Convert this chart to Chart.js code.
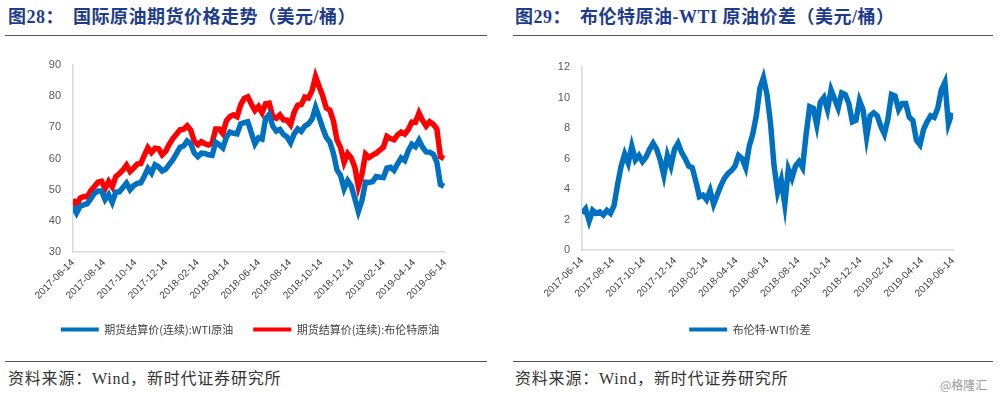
<!DOCTYPE html>
<html lang="zh-CN">
<head>
<meta charset="utf-8">
<script src="https://cdn.jsdelivr.net/npm/chart.js@4.4.0/dist/chart.umd.min.js"></script>
<style>
  body { margin: 0; width: 1000px; height: 398px; background: #fff; position: relative; overflow: hidden; font-family: "Noto Sans CJK SC", sans-serif; }
  .title { position: absolute; top: 6px; line-height: 22px; font-family: "Liberation Serif", "Noto Sans CJK SC", serif; font-weight: bold; font-size: 18px; letter-spacing: 0.5px; color: #1e3c8c; white-space: nowrap; }
  .rule { position: absolute; height: 0; border-top: 1.5px solid #555; }
  .src { position: absolute; top: 369px; line-height: 20px; font-family: "Liberation Serif", "Noto Sans CJK SC", serif; font-size: 16px; letter-spacing: 0.8px; color: #333; white-space: nowrap; }
  .wm { position: absolute; left: 940px; top: 376px; font-size: 12px; color: #999; }
  canvas { position: absolute; }
</style>
</head>
<body>
<div class="title" style="left:8px">图28：</div>
<div class="title" style="left:73px">国际原油期货价格走势（美元/桶）</div>
<div class="title" style="left:515px">图29：</div>
<div class="title" style="left:580px">布伦特原油-WTI 原油价差（美元/桶）</div>
<div class="rule" style="left:5px;width:482px;top:35px"></div>
<div class="rule" style="left:513px;width:480px;top:35px"></div>

<canvas id="oilChart" width="500" height="300" style="left:0;top:45px"></canvas>
<canvas id="spreadChart" width="500" height="300" style="left:500px;top:45px"></canvas>

<div class="rule" style="left:5px;width:482px;top:361px"></div>
<div class="rule" style="left:513px;width:480px;top:361px"></div>
<div class="src" style="left:8px">资料来源：Wind，新时代证券研究所</div>
<div class="src" style="left:515px">资料来源：Wind，新时代证券研究所</div>
<div class="wm">@格隆汇</div>

<script>
// weekly settlements (every 7 days starting 2017-06-14)
const startDate = '2017-06-14';
const stepDays = 7;

const tickLabels = ['2017-06-14', '2017-08-14', '2017-10-14', '2017-12-14', '2018-02-14', '2018-04-14',
  '2018-06-14', '2018-08-14', '2018-10-14', '2018-12-14', '2019-02-14', '2019-04-14', '2019-06-14'];

const wti = [44.7, 42.5, 44.7, 45.1, 45.5, 47.1, 48.8, 49.6, 49.6, 46.8,
  48.4, 45.9, 49.2, 49.3, 50.7, 52.1, 50.0, 51.3, 52.0, 52.2,
  54.3, 56.8, 55.3, 58.0, 57.3, 56.0, 56.6, 58.1, 59.6, 61.6,
  63.6, 64.0, 65.6, 64.7, 61.8, 60.6, 61.7, 61.6, 61.2, 61.0,
  65.2, 64.4, 63.4, 66.8, 68.5, 68.1, 67.9, 71.1, 71.5, 71.8,
  68.2, 64.7, 66.6, 66.2, 72.8, 74.1, 70.4, 68.8, 69.3, 67.7,
  66.9, 65.0, 67.9, 69.5, 68.7, 70.4, 71.1, 72.6, 76.4, 73.2,
  69.8, 66.8, 65.3, 61.7, 56.3, 54.6, 50.3, 52.9, 51.2, 47.2,
  43.0, 46.5, 52.4, 52.3, 52.6, 54.2, 54.0, 53.9, 56.9, 57.2,
  56.2, 58.3, 60.2, 59.4, 62.5, 64.6, 63.8, 65.9, 63.6, 62.1,
  62.0, 61.4, 58.8, 51.7, 51.1];

const brent = [46.9, 44.8, 47.3, 47.8, 47.7, 49.7, 51.0, 52.4, 52.7, 50.3,
  52.6, 50.9, 54.2, 55.2, 56.3, 57.9, 55.8, 56.9, 58.2, 58.4,
  61.0, 63.5, 61.9, 63.3, 63.1, 61.2, 62.4, 64.6, 66.4, 67.8,
  69.2, 69.4, 70.5, 69.1, 65.5, 64.4, 65.4, 64.7, 64.3, 64.9,
  69.5, 69.5, 68.0, 72.1, 73.5, 74.0, 73.4, 77.2, 79.3, 79.8,
  77.5, 75.4, 76.7, 74.7, 77.6, 77.8, 73.4, 72.9, 74.0, 72.4,
  72.3, 70.8, 74.8, 77.1, 77.3, 79.7, 79.4, 81.7, 86.3, 83.1,
  80.1, 76.2, 75.5, 72.1, 66.0, 63.5, 58.8, 61.6, 60.2, 57.2,
  51.0, 54.9, 61.4, 60.3, 61.1, 61.7, 62.7, 63.6, 67.1, 66.4,
  66.0, 67.6, 68.5, 67.8, 69.3, 71.7, 71.6, 74.6, 72.2, 70.4,
  71.8, 71.0, 69.5, 60.6, 60.0];

const spread = [2.4, 2.7, 1.9, 2.6, 2.4, 2.5, 2.3, 2.6, 2.4, 2.9,
  4.3, 5.5, 6.3, 5.7, 6.8, 5.9, 6.2, 5.8, 6.1, 6.6,
  7.0, 6.6, 5.9, 4.9, 6.2, 5.5, 6.6, 7.0, 6.4, 6.0,
  5.5, 5.4, 4.5, 3.5, 3.6, 3.3, 3.9, 3.0, 3.6, 4.2,
  4.7, 5.0, 5.2, 5.5, 6.2, 6.0, 5.4, 6.8, 7.6, 8.8,
  10.6, 11.3, 10.2, 8.3, 5.5, 3.8, 4.6, 3.0, 5.3, 4.7,
  5.5, 5.8, 5.4, 7.6, 9.4, 9.3, 8.2, 9.7, 10.0, 9.2,
  10.5, 9.9, 9.3, 10.3, 10.2, 9.6, 8.4, 8.5, 9.8, 9.2,
  7.4, 8.8, 9.0, 8.8, 8.1, 7.6, 8.6, 10.2, 10.1, 9.2,
  9.6, 9.6, 8.7, 8.5, 7.2, 6.9, 7.9, 8.4, 8.8, 8.7,
  9.3, 10.5, 11.0, 8.3, 9.0];

const BLUE = '#0070c0';
const RED = '#ff0000';
const AXIS = '#d9d9d9';

function dayOf(s) {
  return (Date.parse(s) - Date.parse(startDate)) / 86400000;
}
const tickDays = tickLabels.map(dayOf);

function toPoints(arr) {
  return arr.map((v, i) => ({ x: i * stepDays, y: v }));
}

function lineSet(label, arr, color) {
  return {
    label: label,
    data: toPoints(arr),
    borderColor: color,
    backgroundColor: color,
    borderWidth: 5.5,
    pointRadius: 0,
    tension: 0
  };
}

function xAxis(h) {
  return {
    type: 'linear',
    min: 0,
    max: dayOf(tickLabels[tickLabels.length - 1]),
    grid: { display: false, drawTicks: false },
    border: { display: true, color: AXIS, width: 1.5 },
    afterBuildTicks: function(scale) {
      scale.ticks = tickDays.map(d => ({ value: d }));
    },
    afterFit: function(scale) { scale.height = h; },
    ticks: {
      autoSkip: false,
      minRotation: 45,
      maxRotation: 45,
      padding: 5,
      color: '#404040',
      font: { size: 10, family: 'Liberation Sans' },
      callback: function(value, index) { return tickLabels[index]; }
    }
  };
}

function yAxis(min, max, step, w) {
  return {
    min: min,
    max: max,
    grid: { display: false, drawTicks: false },
    border: { display: true, color: AXIS, width: 1.5 },
    afterFit: function(scale) { scale.width = w; },
    ticks: {
      stepSize: step,
      padding: 12,
      color: '#595959',
      font: { size: 11, family: 'Liberation Sans' }
    }
  };
}

// empty right-hand axis: keeps the plot narrow without pushing the legend left
function rightGap(w) {
  return {
    type: 'linear',
    position: 'right',
    display: true,
    grid: { display: false, drawTicks: false },
    border: { display: false },
    ticks: { display: false },
    afterFit: function(scale) { scale.width = w; }
  };
}

function legendOpts() {
  return {
    position: 'bottom',
    labels: {
      boxWidth: 38,
      boxHeight: 4,
      padding: 20,
      color: '#404040',
      font: { size: 11, family: '"Noto Sans CJK SC", "Liberation Sans"' },
      generateLabels: function(chart) {
        return Chart.defaults.plugins.legend.labels.generateLabels(chart)
          .map(item => Object.assign(item, { lineWidth: 0 }));
      }
    }
  };
}

new Chart(document.getElementById('oilChart'), {
  type: 'line',
  data: {
    datasets: [
      lineSet('期货结算价(连续):WTI原油', wti, BLUE),
      lineSet('期货结算价(连续):布伦特原油', brent, RED)
    ]
  },
  options: {
    responsive: false,
    animation: false,
    layout: { padding: { left: 0, right: 0, top: 20, bottom: 0 } },
    scales: { x: xAxis(52), y: yAxis(30, 90, 10, 73), gap: rightGap(55) },
    plugins: { legend: legendOpts(), tooltip: { enabled: false } }
  }
});

new Chart(document.getElementById('spreadChart'), {
  type: 'line',
  data: {
    datasets: [lineSet('布伦特-WTI价差', spread, BLUE)]
  },
  options: {
    responsive: false,
    animation: false,
    layout: { padding: { left: 0, right: 0, top: 22, bottom: 0 } },
    scales: { x: xAxis(54), y: yAxis(0, 12, 2, 82), gap: rightGap(47) },
    plugins: { legend: legendOpts(), tooltip: { enabled: false } }
  }
});
</script>
</body>
</html>
